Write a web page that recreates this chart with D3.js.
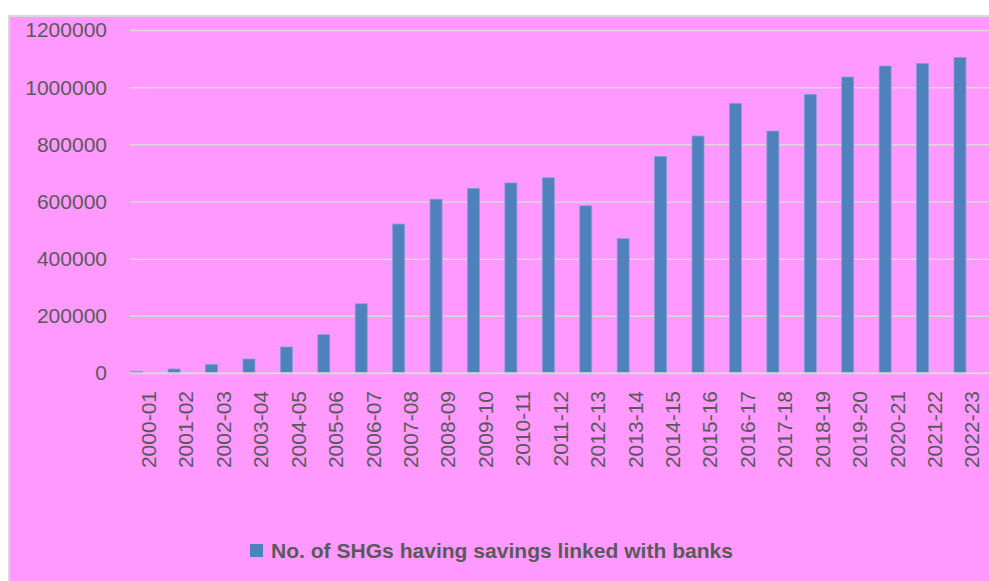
<!DOCTYPE html>
<html>
<head>
<meta charset="utf-8">
<script src="https://cdnjs.cloudflare.com/ajax/libs/d3/7.8.5/d3.min.js"></script>
<style>
  body { margin: 0; background: #fff; }
  svg { display: block; }
  text { font-family: "Liberation Sans", Arial, sans-serif; fill: #595959; }
</style>
</head>
<body>
<svg width="989" height="581"></svg>
<script>
const years = ['2000-01', '2001-02', '2002-03', '2003-04', '2004-05', '2005-06', '2006-07',
  '2007-08', '2008-09', '2009-10', '2010-11', '2011-12', '2012-13', '2013-14', '2014-15',
  '2015-16', '2016-17', '2017-18', '2018-19', '2019-20', '2020-21', '2021-22', '2022-23'];
const shgSavings = [6000, 14000, 30000, 49000, 91000, 134000, 242000,
  521000, 608000, 646000, 665000, 683000, 585000, 470000, 758000,
  829000, 943500, 846500, 975000, 1035500, 1074000, 1083000, 1104000];
const yTicks = [0, 200000, 400000, 600000, 800000, 1000000, 1200000];
const seriesName = 'No. of SHGs having savings linked with banks';

const svg = d3.select('svg');

// chart area background
svg.append('rect')
  .attr('x', 9).attr('y', 16)
  .attr('width', 1000).attr('height', 600)
  .attr('fill', '#ff99ff')
  .attr('stroke', '#d9d9d9')
  .attr('stroke-width', 2);

const plotLeft = 130, plotRight = 990.7, plotTop = 30, plotBottom = 373;

const x = d3.scaleBand()
  .domain(years)
  .range([plotLeft, plotRight]);

const y = d3.scaleLinear()
  .domain([0, 1200000])
  .range([plotBottom, plotTop]);

// gridlines
const grid = svg.append('g')
  .attr('transform', `translate(${plotLeft}, 0)`)
  .call(d3.axisLeft(y)
    .tickValues(yTicks)
    .tickSize(-(989 - plotLeft))
    .tickFormat(''));
grid.select('.domain').remove();
grid.selectAll('line')
  .attr('stroke', '#d9d9d9')
  .attr('stroke-width', 1.5);

// y labels
svg.append('g')
  .selectAll('text')
  .data(yTicks)
  .enter()
  .append('text')
  .attr('x', 107)
  .attr('y', d => y(d))
  .attr('dy', '0.35em')
  .attr('text-anchor', 'end')
  .style('font-size', '21px')
  .text(d => d);

// bars (first slot of each category)
svg.append('g')
  .selectAll('rect')
  .data(years)
  .enter()
  .append('rect')
  .attr('x', d => x(d) + 0.7)
  .attr('y', (d, i) => y(shgSavings[i]))
  .attr('width', x.bandwidth() * 0.32)
  .attr('height', (d, i) => plotBottom - y(shgSavings[i]))
  .attr('fill', '#4f81bd')
  .attr('stroke', '#7f9fd6')
  .attr('stroke-width', 0.8);

// category axis line
svg.append('line')
  .attr('x1', plotLeft).attr('x2', 989)
  .attr('y1', plotBottom).attr('y2', plotBottom)
  .attr('stroke', '#d9d9d9')
  .attr('stroke-width', 1.5);

// x labels, rotated
svg.append('g')
  .selectAll('text')
  .data(years)
  .enter()
  .append('text')
  .attr('transform', d => `translate(${x(d) + x.bandwidth() / 2}, 391) rotate(-90)`)
  .attr('dy', '0.35em')
  .attr('text-anchor', 'end')
  .style('font-size', '21px')
  .text(d => d);

// legend
svg.append('rect')
  .attr('x', 250).attr('y', 544)
  .attr('width', 13).attr('height', 13)
  .attr('fill', '#4f81bd');

svg.append('text')
  .attr('x', 271)
  .attr('y', 551)
  .attr('dy', '0.35em')
  .attr('textLength', 462)
  .attr('lengthAdjust', 'spacingAndGlyphs')
  .style('font-size', '21px')
  .style('font-weight', 'bold')
  .text(seriesName);
</script>
</body>
</html>
